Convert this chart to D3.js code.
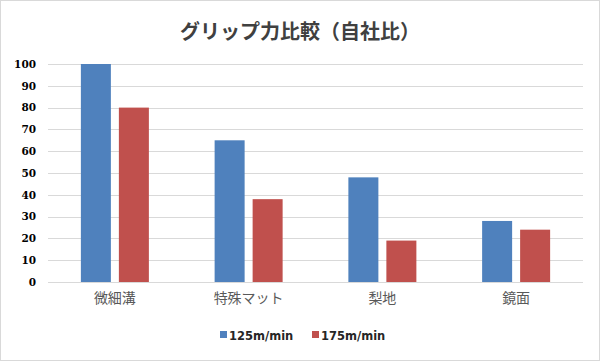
<!DOCTYPE html>
<html>
<head>
<meta charset="utf-8">
<script src="https://cdn.jsdelivr.net/npm/d3@7"></script>
<style>
  body { margin: 0; background: #fff; }
  #chart svg { display: block; }
</style>
</head>
<body>
<div id="chart"></div>
<script>
// Data
const categories = ['微細溝', '特殊マット', '梨地', '鏡面']
const seriesNames = ['125m/min', '175m/min']
const values125 = [100, 65, 48, 28]
const values175 = [80, 38, 19, 24]
const yTicks = [0, 10, 20, 30, 40, 50, 60, 70, 80, 90, 100]

const colors = ['#4F81BD', '#C0504D']
const dataset = categories.map((c, i) => ({
  category: c,
  values: [values125[i], values175[i]]
}))

// Dimensions
let dimensions = {
  width: 600,
  height: 361,
  left: 48,
  right: 17,
  top: 64,
  bottom: 79,
}
dimensions.ctrWidth = dimensions.width - dimensions.left - dimensions.right
dimensions.ctrHeight = dimensions.height - dimensions.top - dimensions.bottom

const svg = d3.select('#chart')
  .append('svg')
  .attr('width', dimensions.width)
  .attr('height', dimensions.height)

svg.append('rect')
  .attr('x', 0.5).attr('y', 0.5)
  .attr('width', dimensions.width - 1)
  .attr('height', dimensions.height - 1)
  .attr('fill', '#fff')
  .attr('stroke', '#D9D9D9')

svg.append('text')
  .attr('x', dimensions.width / 2)
  .attr('y', 39)
  .attr('text-anchor', 'middle')
  .attr('fill', '#404040')
  .style('font-family', '"Noto Sans CJK JP", sans-serif')
  .style('font-size', '20px')
  .style('font-weight', 'bold')
  .text('グリップ力比較（自社比）')

const ctr = svg.append('g')
  .attr('transform', `translate(${dimensions.left}, ${dimensions.top})`)

// Scales
const yScale = d3.scaleLinear()
  .domain([0, 100])
  .range([dimensions.ctrHeight, 0])

const xScale = d3.scaleBand()
  .domain(categories)
  .range([0, dimensions.ctrWidth])

const innerScale = d3.scaleBand()
  .domain(seriesNames)
  .range([0, 68])
  .paddingInner(8 / 38)

// Gridlines
ctr.append('g')
  .selectAll('line')
  .data(yTicks)
  .join('line')
  .attr('x1', 0)
  .attr('x2', dimensions.ctrWidth)
  .attr('y1', d => Math.round(yScale(d)) + 0.5)
  .attr('y2', d => Math.round(yScale(d)) + 0.5)
  .attr('stroke', '#D9D9D9')

// Bars
const groups = ctr.append('g')
  .selectAll('g')
  .data(dataset)
  .join('g')
  .attr('transform', d => `translate(${xScale(d.category) + xScale.bandwidth() / 2 - 34}, 0)`)

groups.selectAll('rect')
  .data(d => d.values.map((v, i) => ({ name: seriesNames[i], value: v, i })))
  .join('rect')
  .attr('x', d => innerScale(d.name))
  .attr('width', innerScale.bandwidth())
  .attr('y', d => yScale(d.value))
  .attr('height', d => dimensions.ctrHeight - yScale(d.value))
  .attr('fill', d => colors[d.i])

// Axes
const yAxis = d3.axisLeft(yScale)
  .tickValues(yTicks)
  .tickSize(0)
  .tickPadding(12)

const yAxisGroup = ctr.append('g')
  .call(yAxis)
yAxisGroup.select('.domain').remove()
yAxisGroup.selectAll('text')
  .attr('fill', '#000')
  .style('font-family', '"DejaVu Serif", serif')
  .style('font-size', '10.5px')
  .style('font-weight', 'bold')

const xAxis = d3.axisBottom(xScale)
  .tickSize(0)
  .tickPadding(11)

const xAxisGroup = ctr.append('g')
  .call(xAxis)
  .attr('transform', `translate(0, ${dimensions.ctrHeight})`)
xAxisGroup.select('.domain').remove()
xAxisGroup.selectAll('text')
  .attr('fill', '#595959')
  .style('font-family', '"Noto Sans CJK JP", sans-serif')
  .style('font-size', '14px')

// Legend
const legendX = [220, 312]
const legend = svg.append('g')
  .selectAll('g')
  .data(seriesNames)
  .join('g')
  .attr('transform', (d, i) => `translate(${legendX[i]}, 335)`)

legend.append('rect')
  .attr('x', 0).attr('y', -4)
  .attr('width', 7).attr('height', 7)
  .attr('fill', (d, i) => colors[i])

legend.append('text')
  .attr('x', 9)
  .attr('y', 4.5)
  .attr('fill', '#262626')
  .style('font-family', '"DejaVu Sans", sans-serif')
  .style('font-size', '11.5px')
  .style('font-weight', 'bold')
  .text(d => d)
</script>
</body>
</html>
